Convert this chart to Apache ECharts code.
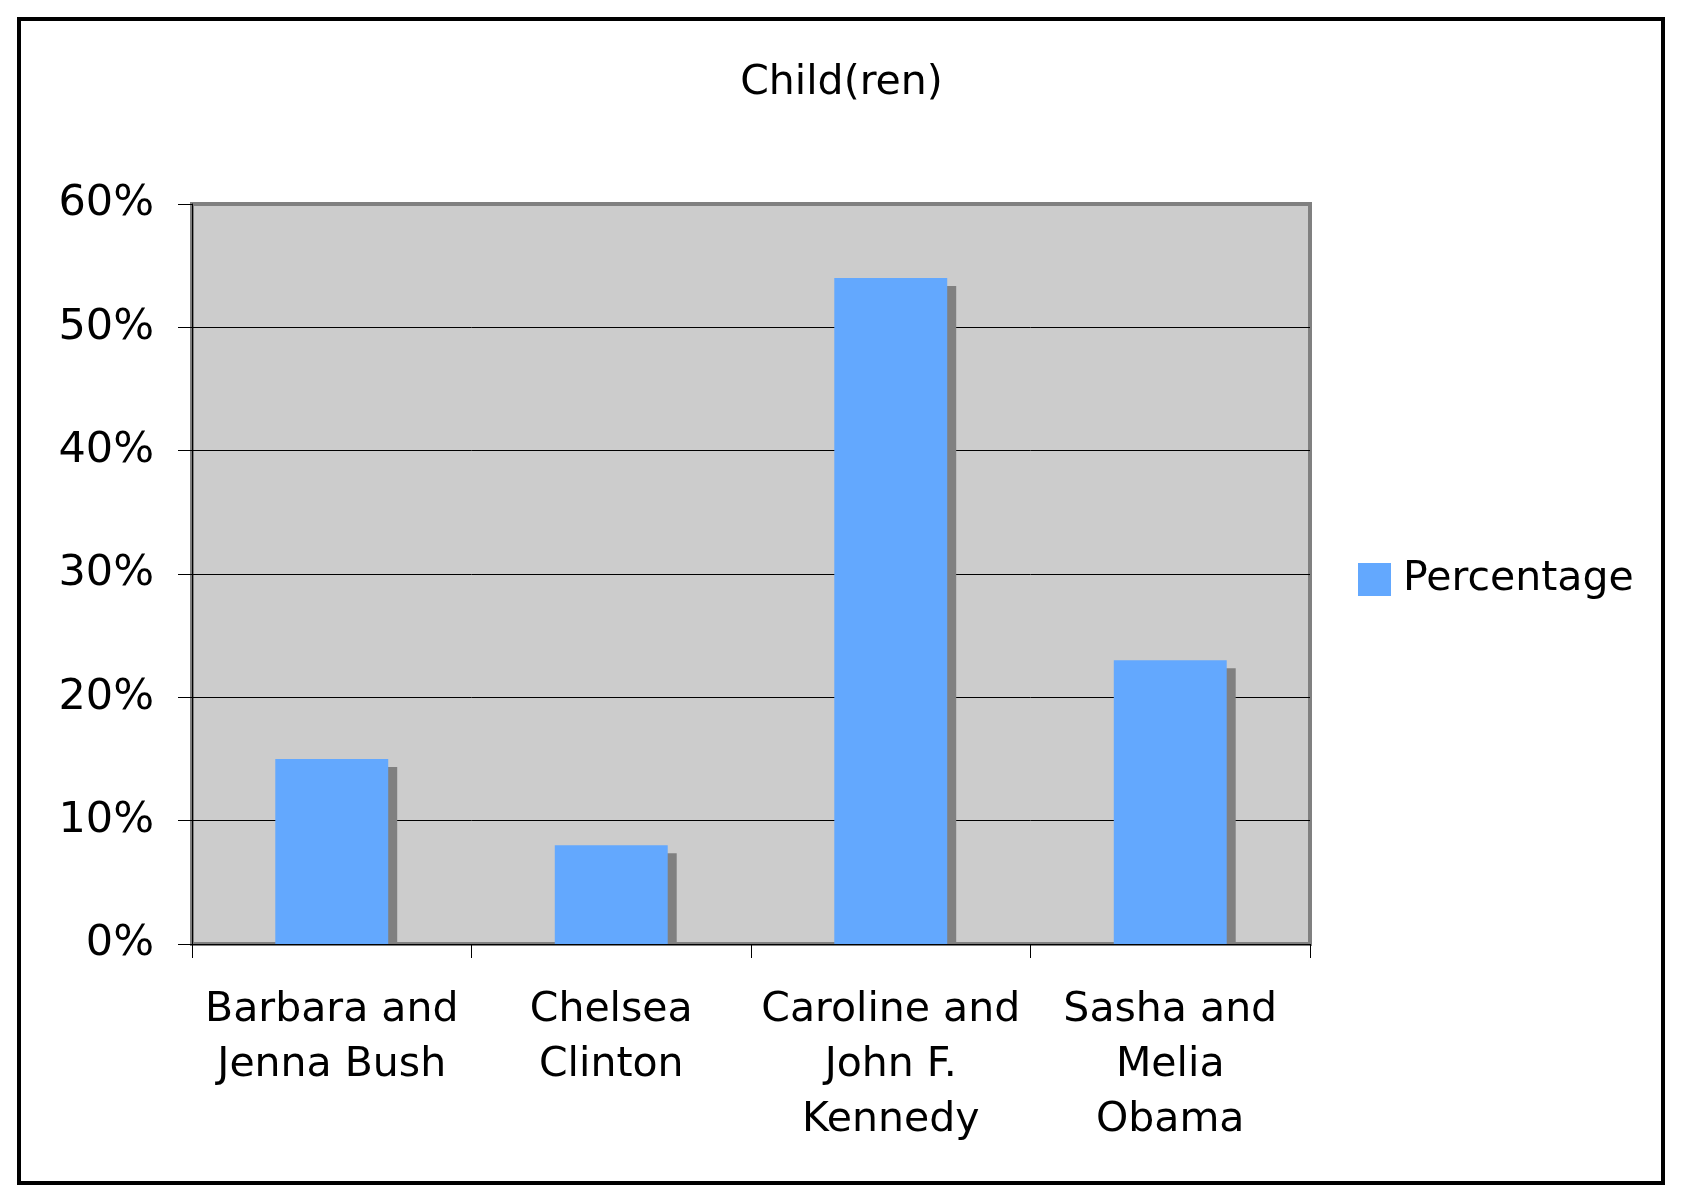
<!DOCTYPE html>
<html>
<head>
<meta charset="utf-8">
<script src="https://cdn.jsdelivr.net/npm/echarts@6.0.0/dist/echarts.min.js"></script>
<style>
	html, body { margin: 0; padding: 0; background: #fff; }
	#main { width: 1683px; height: 1202px; }
</style>
</head>
<body>
<div id="main"></div>
<script>
// chart data
const categories = ['Barbara and Jenna Bush', 'Chelsea Clinton', 'Caroline and John F. Kennedy', 'Sasha and Melia Obama']
const tickLabels = ['Barbara and\nJenna Bush', 'Chelsea\nClinton', 'Caroline and\nJohn F.\nKennedy', 'Sasha and\nMelia\nObama']
const percentage = [15, 8, 54, 23]
const yTicks = [0, 10, 20, 30, 40, 50, 60]

const font = 'DejaVu Sans, Verdana, sans-serif'
const barColor = '#63a8fe'
const shadowColor = '#808080'

const chart = echarts.init(document.getElementById('main'))

chart.setOption({
	animation: false,
	textStyle: { fontFamily: font, color: '#000' },
	title: {
		text: 'Child(ren)',
		left: 'center',
		top: 58,
		textStyle: { fontFamily: font, fontSize: 41, fontWeight: 'normal', color: '#000' },
	},
	legend: {
		data: ['Percentage'],
		left: 1358,
		top: 559,
		padding: 0,
		itemWidth: 33,
		itemHeight: 33,
		itemGap: 13,
		icon: 'rect',
		textStyle: { fontFamily: font, fontSize: 41, color: '#000', padding: [0, 0, 0, 7] },
	},
	grid: {
		left: 192,
		top: 204,
		width: 1118,
		height: 740,
		show: true,
		backgroundColor: '#cccccc',
		borderColor: '#808080',
		borderWidth: 4,
	},
	xAxis: {
		type: 'category',
		data: categories,
		boundaryGap: true,
		axisLine: { lineStyle: { color: '#000', width: 1 } },
		axisTick: { show: true, length: 14, lineStyle: { color: '#000', width: 1 } },
		axisLabel: {
			margin: 39,
			fontFamily: font,
			fontSize: 41,
			lineHeight: 55,
			color: '#000',
			interval: 0,
			formatter: (v, i) => tickLabels[i],
		},
		splitLine: { show: false },
	},
	yAxis: {
		type: 'value',
		min: yTicks[0],
		max: yTicks[yTicks.length - 1],
		interval: 10,
		axisLine: { show: true, lineStyle: { color: '#000', width: 1 } },
		axisTick: { show: true, length: 14, lineStyle: { color: '#000', width: 1 } },
		axisLabel: {
			margin: 38,
			fontFamily: font,
			fontSize: 43,
			color: '#000',
			padding: [4, 0, 0, 0],
			formatter: '{value}%',
		},
		splitLine: { show: true, showMinLine: false, showMaxLine: false, lineStyle: { color: '#000', width: 1 } },
	},
	graphic: [{
		type: 'rect',
		shape: { x: 19, y: 19, width: 1644, height: 1164 },
		style: { fill: 'none', stroke: '#000', lineWidth: 4 },
		z: 100,
	}],
	series: [{
		name: 'Percentage',
		type: 'custom',
		itemStyle: { color: barColor },
		data: percentage.map((v, i) => [i, v]),
		encode: { x: 0, y: 1 },
		renderItem(params, api) {
			const top = api.coord([api.value(0), api.value(1)])
			const base = api.coord([api.value(0), 0])
			const bw = api.size([1, 0])[0] * 0.404
			const x = top[0] - bw / 2
			const h = base[1] - top[1]
			return {
				type: 'group',
				children: [
					{ type: 'rect', shape: { x: x + 9, y: top[1] + 8, width: bw, height: h - 8 }, style: { fill: shadowColor } },
					{ type: 'rect', shape: { x, y: top[1], width: bw, height: h }, style: { fill: barColor } },
				],
			}
		},
	}],
})
</script>
</body>
</html>
